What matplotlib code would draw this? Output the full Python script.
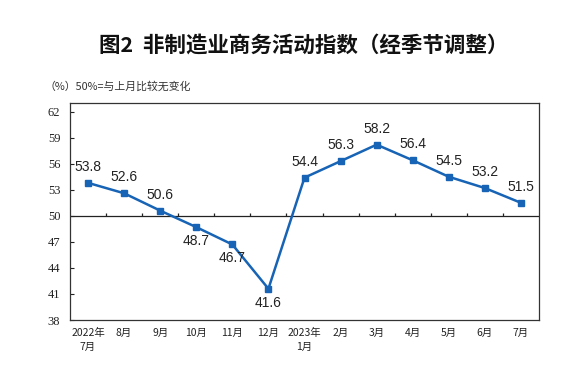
import numpy as np
import matplotlib.pyplot as plt

plt.rcParams['font.family'] = ['Noto Sans CJK SC', 'DejaVu Sans']

# Months and index values (seasonally adjusted)
months = ['2022年\n7月', '8月', '9月', '10月', '11月', '12月', '2023年\n1月',
          '2月', '3月', '4月', '5月', '6月', '7月']
values = [53.8, 52.6, 50.6, 48.7, 46.7, 41.6, 54.4, 56.3, 58.2, 56.4, 54.5, 53.2, 51.5]
# label placement: 1 = above the point, -1 = below
label_side = [1, 1, 1, -1, -1, -1, 1, 1, 1, 1, 1, 1, 1]
yticks = [38, 41, 44, 47, 50, 53, 56, 59, 62]

line_color = '#1763B5'

fig = plt.figure(figsize=(5.65, 3.81), dpi=100)
ax = fig.add_axes([70 / 565, 1 - 320 / 381, 469 / 565, 217 / 381])

x = np.arange(len(months))
ax.plot(x, values, color=line_color, lw=1.8, marker='s', markersize=4.5, zorder=3)

# value labels
for xi, v, side in zip(x, values, label_side):
    dy = 16 if side > 0 else -14
    ax.annotate(f'{v:.1f}', (xi, v), xytext=(0, dy), textcoords='offset pixels',
                ha='center', va='center', fontsize=10, family='Liberation Sans',
                color='#222222')

# 50 line with small upward ticks between months
ax.axhline(50, color='#222222', lw=0.9, zorder=2)
ax.vlines(x[:-1] + 0.5, 50, 50.38, color='#222222', lw=0.9)

ax.set_xlim(-0.5, len(months) - 0.5)
ax.set_ylim(38, 63)
ax.set_xticks(x)
ax.set_xticklabels(months, fontsize=7.5, linespacing=1.5, color='#222222')
ax.tick_params(axis='x', length=0, pad=6)
ax.set_yticks(yticks)
ax.set_yticklabels([str(t) for t in yticks], fontsize=9, family='Liberation Serif',
                   color='#222222')
ax.tick_params(axis='y', direction='in', length=3, pad=7, color='#222222')

for sp in ax.spines.values():
    sp.set_color('#333333')
    sp.set_linewidth(0.9)

fig.text(304 / 565, 1 - 45 / 381, '图2  非制造业商务活动指数（经季节调整）',
         ha='center', va='center', fontsize=15.5, fontweight='bold', color='#111111')
fig.text(44 / 565, 1 - 86 / 381, '（%）50%=与上月比较无变化',
         ha='left', va='center', fontsize=7.8, color='#333333')

fig.savefig('out.png', dpi=100)
